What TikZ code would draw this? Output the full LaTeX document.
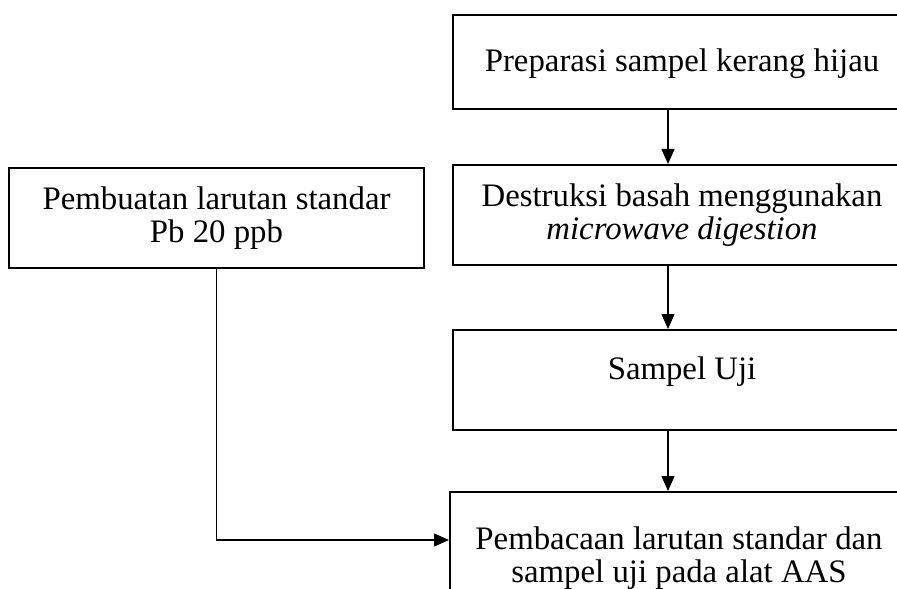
\documentclass[tikz,border=0pt]{standalone}
\usepackage{fontspec}
\setmainfont{Liberation Serif}
\usetikzlibrary{arrows.meta}

\tikzset{
  box/.style = {draw, line width=1pt, minimum width=229pt, inner sep=0pt, align=center},
  arr/.style = {line width=0.6pt, -{Triangle[length=7.5pt,width=6.5pt]}}
}

\begin{document}
\begin{tikzpicture}[x=0.5pt, y=-0.5pt, font=\fontsize{16.4pt}{16.6pt}\selectfont]
      \useasboundingbox (0,0) rectangle (897,588);
      \clip (0,0) rectangle (897,588);
      \fill [white] (0,0) rectangle (897,588);
      \node [box, anchor=north, text height=28.5pt, text depth=18.5pt] (prep) at (682,14) {Preparasi sampel kerang hijau};
      \node [box, minimum height=50pt] (destr) at (682,215) {Destruksi basah menggunakan\\\textit{microwave digestion}};
      \node [box, anchor=north, text height=24.5pt, text depth=25.5pt] (uji) at (682,329) {Sampel Uji};
      \node [box, anchor=north, minimum height=66.5pt] (baca) at (679,491) {Pembacaan larutan standar dan\\sampel uji pada alat AAS};
      \node [box, minimum width=207.5pt, minimum height=50pt] (std) at (216.5,218) {Pembuatan larutan standar\\Pb 20 ppb};
      \coordinate (col) at (668,0);
      \coordinate (entry) at (0,540);
      \draw [arr] (prep.south -| col) -- (destr.north -| col);
      \draw [arr] (destr.south -| col) -- (uji.north -| col);
      \draw [arr] (uji.south -| col) -- (baca.north -| col);
      \draw [arr] (std.south) |- (baca.west |- entry);
    \end{tikzpicture}
\end{document}
